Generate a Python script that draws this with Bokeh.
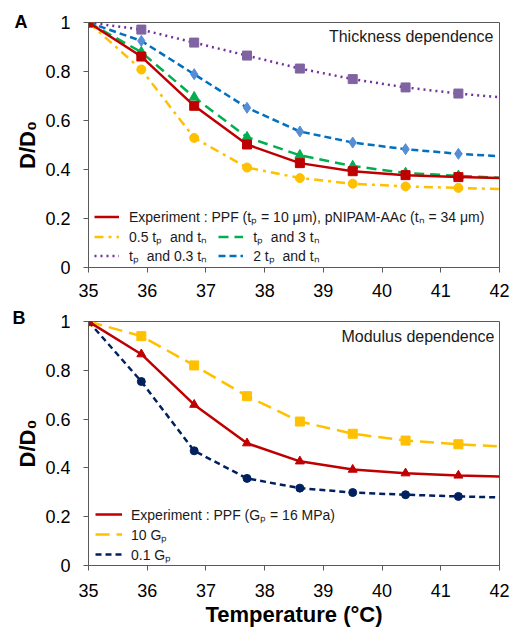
from bokeh.plotting import figure
from bokeh.layouts import column
from bokeh.models import (Range1d, FixedTicker, CustomJSTickFormatter, Legend,
                          LegendItem, Label)
from bokeh.embed import file_html
from bokeh.resources import INLINE

# ---------------- data ----------------
temps = [35, 35.9, 36.8, 37.7, 38.6, 39.5, 40.4, 41.3, 42]
n_markers = 8  # last point (42 °C) carries no marker

# Panel A: thickness dependence
exp_thick = [1, 0.861, 0.660, 0.502, 0.426, 0.393, 0.377, 0.369, 0.365]
half_tp = [1, 0.808, 0.529, 0.408, 0.365, 0.342, 0.331, 0.325, 0.320]
tp_3tn = [1, 0.879, 0.695, 0.532, 0.458, 0.414, 0.386, 0.374, 0.366]
tp_03tn = [1, 0.971, 0.918, 0.865, 0.812, 0.769, 0.735, 0.710, 0.695]
two_tp = [1, 0.925, 0.789, 0.652, 0.555, 0.510, 0.483, 0.464, 0.454]

# Panel B: modulus dependence
exp_mod = [1, 0.866, 0.659, 0.501, 0.427, 0.393, 0.378, 0.369, 0.365]
ten_gp = [1, 0.940, 0.820, 0.694, 0.590, 0.540, 0.512, 0.497, 0.488]
tenth_gp = [1, 0.754, 0.470, 0.357, 0.317, 0.299, 0.290, 0.283, 0.279]

x_ticks = [35, 36, 37, 38, 39, 40, 41, 42]
y_ticks = [0, 0.2, 0.4, 0.6, 0.8, 1.0]

labels_a = ["Experiment : PPF (t\u209a = 10 \u03bcm), pNIPAM-AAc (t\u2099 = 34 \u03bcm)",
            "0.5 t\u209a  and t\u2099", "t\u209a  and 3 t\u2099",
            "t\u209a  and 0.3 t\u2099", "2 t\u209a  and t\u2099"]
labels_b = ["Experiment : PPF (G\u209a = 16 MPa)", "10 G\u209a", "0.1 G\u209a"]

FONT = "Liberation Sans"
AXC = "#595959"


def base_fig(height, top, bottom, left, right, xlabel=None, x_standoff=11):
    p = figure(width=516, height=height, output_backend="svg", toolbar_location=None,
               x_range=Range1d(35, 42), y_range=Range1d(0, 1),
               min_border_top=top, min_border_bottom=bottom,
               min_border_left=left, min_border_right=right)
    p.grid.visible = False
    p.outline_line_color = AXC
    p.outline_line_width = 1
    p.background_fill_color = "white"
    p.border_fill_color = "white"
    xa, ya = p.xaxis[0], p.yaxis[0]
    xa.ticker = FixedTicker(ticks=x_ticks)
    ya.ticker = FixedTicker(ticks=y_ticks)
    ya.formatter = CustomJSTickFormatter(code="return tick.toFixed(1).replace('.0', '');")
    for ax in (xa, ya):
        ax.axis_line_color = AXC
        ax.major_tick_line_color = AXC
        ax.major_tick_out = 5
        ax.major_tick_in = 0
        ax.minor_tick_line_color = None
        ax.major_label_text_font = FONT
        ax.major_label_text_font_size = "18px"
        ax.major_label_text_color = "black"
        ax.axis_label_text_font = FONT
        ax.axis_label_text_font_style = "bold"
        ax.axis_label_text_color = "black"
    ya.major_label_standoff = 13
    xa.major_label_standoff = x_standoff
    ya.axis_label = "D/D\u2080"
    ya.axis_label_text_font_size = "22px"
    ya.axis_label_standoff = 2
    if xlabel:
        xa.axis_label = xlabel
        xa.axis_label_text_font_size = "22px"
        xa.axis_label_standoff = 2
    return p


def panel_letter(p, text, offset, standoff):
    p.title.text = text
    p.title.align = "left"
    p.title.offset = offset
    p.title.standoff = standoff
    p.title.text_font = FONT
    p.title.text_font_style = "bold"
    p.title.text_font_size = "18px"
    p.title.text_color = "black"


def style_legend(lg, standoff=10, gw=25, h=19, spacing=0):
    lg.background_fill_alpha = 0
    lg.border_line_alpha = 0
    lg.padding = 0
    lg.margin = 0
    lg.spacing = spacing
    lg.label_standoff = standoff
    lg.glyph_width = gw
    lg.glyph_height = h
    lg.label_height = h
    lg.label_text_font = FONT
    lg.label_text_font_size = "14px"
    lg.label_text_color = "#1a1a1a"


def series(p, y, color, dash, marker, mcolor, msize, lw=2.5):
    r = p.line(temps, y, line_color=color, line_width=lw, line_dash=dash)
    p.scatter(temps[:n_markers], y[:n_markers], marker=marker, size=msize,
              fill_color=mcolor, line_color=mcolor)
    return r


# ---------------- Panel A ----------------
pa = base_fig(305, 22, 38, 86, 17)
panel_letter(pa, "A", -74, -18)
r_tn03 = series(pa, tp_03tn, "#7030A0", "2 4", "square", "#8064A2", 9)
r_2tp = series(pa, two_tp, "#0070C0", "7 4", "diamond", "#558ED5", 11)
r_half = series(pa, half_tp, "#FFC000", "9 5 3 5", "circle", "#FFC000", 9)
r_3tn = series(pa, tp_3tn, "#00B050", "10 6", "triangle", "#00B050", 10)
r_exp = series(pa, exp_thick, "#C00000", "solid", "square", "#C00000", 9)

lg1 = Legend(items=[LegendItem(label=labels_a[0], renderers=[r_exp])], location=(6, 41))
lg2 = Legend(items=[LegendItem(label=labels_a[1], renderers=[r_half]),
                    LegendItem(label=labels_a[2], renderers=[r_3tn])],
             location=(6, 21), orientation="horizontal")
lg3 = Legend(items=[LegendItem(label=labels_a[3], renderers=[r_tn03]),
                    LegendItem(label=labels_a[4], renderers=[r_2tp])],
             location=(6, 2), orientation="horizontal")
for lg in (lg1, lg2, lg3):
    style_legend(lg, spacing=11)
    pa.add_layout(lg)

pa.add_layout(Label(x=42, y=1, x_offset=-6, y_offset=-5, text="Thickness dependence",
                    text_font=FONT, text_font_size="16px", text_baseline="top",
                    text_align="right", text_color="#1a1a1a"))

# ---------------- Panel B ----------------
pb = base_fig(325, 16, 65, 88, 12, xlabel="Temperature (\u00b0C)", x_standoff=13)
panel_letter(pb, "B", -76, -12)
r_10 = series(pb, ten_gp, "#FFC000", "14 7", "square", "#FFC000", 9)
r_01 = series(pb, tenth_gp, "#002060", "6 4", "circle", "#002060", 8)
r_eb = series(pb, exp_mod, "#C00000", "solid", "triangle", "#C00000", 9)

lgb = Legend(items=[LegendItem(label=labels_b[0], renderers=[r_eb]),
                    LegendItem(label=labels_b[1], renderers=[r_10]),
                    LegendItem(label=labels_b[2], renderers=[r_01])],
             location=(7, 1))
style_legend(lgb, standoff=9, gw=27, h=20)
pb.add_layout(lgb)

pb.add_layout(Label(x=42, y=1, x_offset=-5, y_offset=-6, text="Modulus dependence",
                    text_font=FONT, text_font_size="16px", text_baseline="top",
                    text_align="right", text_color="#1a1a1a"))

layout = column(pa, pb, spacing=0)
open("out.html", "w").write(file_html(layout, INLINE))
